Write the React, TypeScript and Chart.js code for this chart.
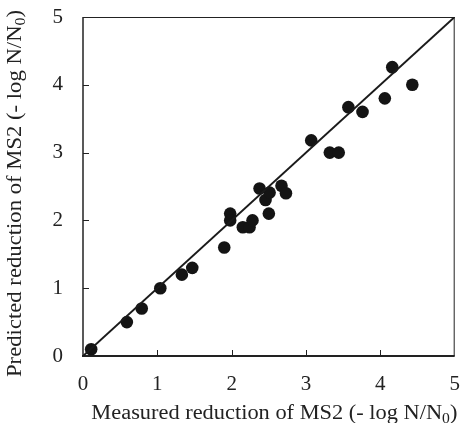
import React, { useEffect, useRef } from "react";
import { Chart, registerables } from "chart.js";

Chart.register(...registerables);

// ---- data ----
const measured = [0.11, 0.59, 0.79, 1.04, 1.33, 1.47, 1.9, 1.98, 1.98, 2.15, 2.24, 2.28, 2.375, 2.455, 2.51, 2.5, 2.67, 2.73, 3.07, 3.32, 3.44, 3.57, 3.76, 4.06, 4.16, 4.43];
const predicted = [0.1, 0.5, 0.7, 1.0, 1.2, 1.3, 1.6, 2.1, 2.0, 1.9, 1.9, 2.0, 2.47, 2.3, 2.41, 2.1, 2.51, 2.4, 3.18, 3.0, 3.0, 3.67, 3.6, 3.8, 4.26, 4.0];
const lineX = [0, 5];
const lineY = [0, 5];
const axisMin = 0;
const axisMax = 5;
const tickStep = 1;
const xTitleParts = [
  { text: "Measured reduction of MS2 (- log N/N", sub: false },
  { text: "0", sub: true },
  { text: ")", sub: false },
];
const yTitleParts = [
  { text: "Predicted reduction of MS2 (- log N/N", sub: false },
  { text: "0", sub: true },
  { text: ")", sub: false },
];

const FONT_FAMILY = "'Liberation Serif', 'DejaVu Serif', 'Times New Roman', serif";
const TEXT_COLOR = "#222";

function drawParts(ctx: CanvasRenderingContext2D, parts: { text: string; sub: boolean }[], targetWidth: number) {
  const mainFont = `20px ${FONT_FAMILY}`;
  const subFont = `14px ${FONT_FAMILY}`;
  let total = 0;
  const widths: number[] = [];
  for (const p of parts) {
    ctx.font = p.sub ? subFont : mainFont;
    const w = ctx.measureText(p.text).width;
    widths.push(w);
    total += w;
  }
  const s = targetWidth / total;
  ctx.scale(s, 1);
  let x = -total / 2;
  ctx.fillStyle = TEXT_COLOR;
  ctx.textBaseline = "alphabetic";
  ctx.textAlign = "left";
  parts.forEach((p, i) => {
    ctx.font = p.sub ? subFont : mainFont;
    ctx.fillText(p.text, x, p.sub ? 4 : 0);
    x += widths[i];
  });
}

const framePlugin = {
  id: "frame",
  beforeDatasetsDraw(chart: any) {
    const { ctx, chartArea: ca } = chart;
    ctx.save();
    ctx.strokeStyle = "#222";
    ctx.lineWidth = 1;
    ctx.beginPath();
    ctx.moveTo(ca.left, ca.top + 0.5);
    ctx.lineTo(ca.right, ca.top + 0.5);
    ctx.moveTo(ca.right - 0.5, ca.top);
    ctx.lineTo(ca.right - 0.5, ca.bottom);
    ctx.stroke();
    ctx.lineWidth = 1.5;
    ctx.beginPath();
    ctx.moveTo(ca.left, ca.top);
    ctx.lineTo(ca.left, ca.bottom);
    ctx.stroke();
    ctx.lineWidth = 2;
    ctx.beginPath();
    ctx.moveTo(ca.left - 1, ca.bottom);
    ctx.lineTo(ca.right, ca.bottom);
    ctx.stroke();
    // inward ticks
    ctx.lineWidth = 1;
    const xs = chart.scales.x;
    const ys = chart.scales.y;
    ctx.beginPath();
    xs.ticks.forEach((t: any) => {
      if (t.value <= axisMin || t.value >= axisMax) return;
      const px = Math.round(xs.getPixelForValue(t.value)) + 0.5;
      ctx.moveTo(px, ca.bottom);
      ctx.lineTo(px, ca.bottom - 6);
    });
    ys.ticks.forEach((t: any) => {
      if (t.value <= axisMin || t.value >= axisMax) return;
      const py = Math.round(ys.getPixelForValue(t.value)) + 0.5;
      ctx.moveTo(ca.left, py);
      ctx.lineTo(ca.left + 6, py);
    });
    ctx.stroke();
    ctx.restore();
  },
  afterDraw(chart: any) {
    const { ctx, chartArea: ca } = chart;
    ctx.save();
    ctx.translate((ca.left + ca.right) / 2 + 5.5, ca.bottom + 63);
    drawParts(ctx, xTitleParts, 366);
    ctx.restore();
    ctx.save();
    ctx.translate(21, (ca.top + ca.bottom) / 2 + 7);
    ctx.rotate(-Math.PI / 2);
    drawParts(ctx, yTitleParts, 367);
    ctx.restore();
  },
};

export default function App() {
  const ref = useRef<HTMLCanvasElement>(null);
  useEffect(() => {
    document.body.style.margin = "0";
    const canvas = ref.current!;
    const tickFont = { family: FONT_FAMILY, size: 21 };
    const chart = new Chart(canvas, {
      type: "scatter",
      data: {
        datasets: [
          {
            type: "line",
            data: lineX.map((x, i) => ({ x, y: lineY[i] })),
            borderColor: "#1a1a1a",
            borderWidth: 2,
            pointRadius: 0,
            fill: false,
          } as any,
          {
            data: measured.map((x, i) => ({ x, y: predicted[i] })),
            backgroundColor: "#141414",
            borderWidth: 0,
            pointRadius: 6.3,
          },
        ],
      },
      options: {
        responsive: false,
        animation: false,
        events: [],
        layout: { padding: { top: 17, right: 5, left: 0, bottom: 0 } },
        plugins: { legend: { display: false }, tooltip: { enabled: false } },
        scales: {
          x: {
            type: "linear",
            min: axisMin,
            max: axisMax,
            ticks: { stepSize: tickStep, font: tickFont, color: TEXT_COLOR, padding: 16, maxRotation: 0 },
            grid: { display: false, drawTicks: false },
            border: { display: false },
            afterFit: (s: any) => {
              s.height = 67;
              s.paddingLeft = 0;
              s.paddingRight = 0;
            },
          },
          y: {
            type: "linear",
            min: axisMin,
            max: axisMax,
            ticks: { stepSize: tickStep, font: tickFont, color: TEXT_COLOR, padding: 20 },
            grid: { display: false, drawTicks: false },
            border: { display: false },
            afterFit: (s: any) => {
              s.width = 83;
              s.paddingTop = 0;
              s.paddingBottom = 0;
            },
          },
        },
      },
      plugins: [framePlugin],
    });
    return () => chart.destroy();
  }, []);
  return <canvas ref={ref} width={461} height={423} style={{ display: "block" }} />;
}
